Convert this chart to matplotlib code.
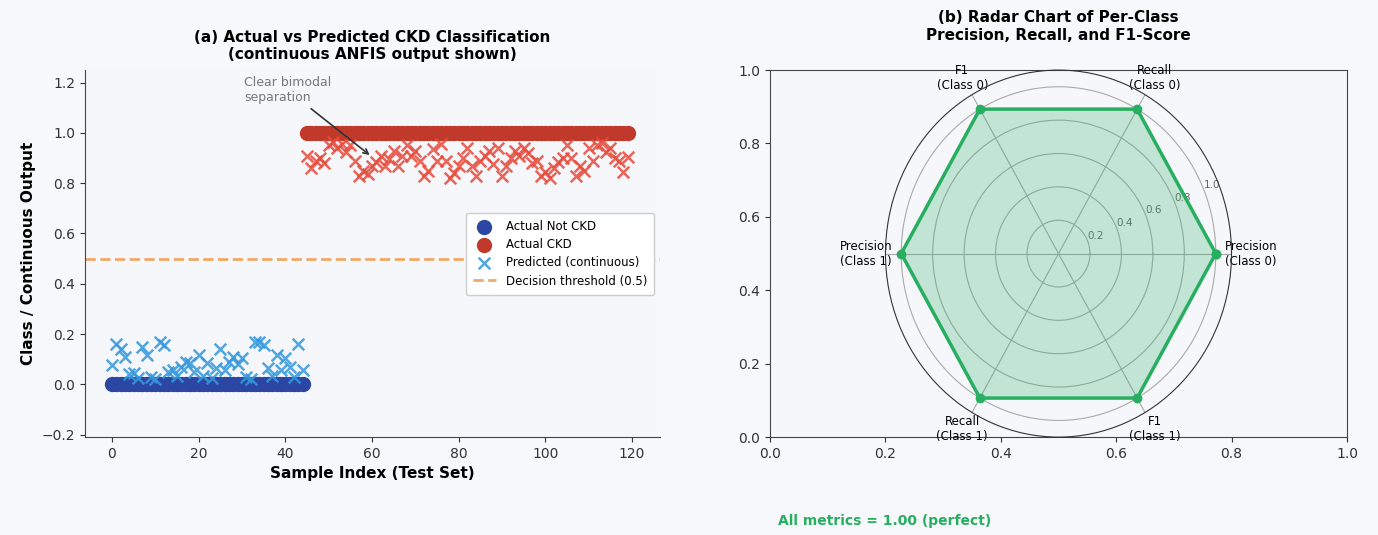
import numpy as np
import matplotlib
matplotlib.use("Agg")
import matplotlib.pyplot as plt

# ---------------- data ----------------
not_ckd_idx = list(range(0, 45))
ckd_idx = list(range(45, 120))
pred_not_ckd = [0.075, 0.16, 0.14, 0.11, 0.04, 0.045, 0.025, 0.15, 0.115, 0.03,
                0.02, 0.17, 0.155, 0.05, 0.055, 0.035, 0.07, 0.09, 0.085, 0.05,
                0.115, 0.035, 0.085, 0.025, 0.065, 0.14, 0.055, 0.09, 0.11, 0.08,
                0.105, 0.03, 0.02, 0.17, 0.17, 0.155, 0.065, 0.035, 0.115, 0.055,
                0.105, 0.07, 0.03, 0.16, 0.055]
pred_ckd = [0.91, 0.86, 0.89, 0.90, 0.88, 0.95, 0.965, 0.94, 0.955, 0.925,
            0.95, 0.89, 0.83, 0.85, 0.835, 0.87, 0.885, 0.91, 0.87, 0.895,
            0.93, 0.87, 0.91, 0.95, 0.91, 0.93, 0.89, 0.83, 0.85, 0.935,
            0.89, 0.955, 0.89, 0.82, 0.84, 0.87, 0.90, 0.94, 0.87, 0.83,
            0.89, 0.91, 0.93, 0.875, 0.94, 0.83, 0.87, 0.90, 0.93, 0.91,
            0.94, 0.92, 0.88, 0.89, 0.83, 0.845, 0.82, 0.86, 0.885, 0.90,
            0.95, 0.90, 0.83, 0.87, 0.85, 0.94, 0.89, 0.95, 0.96, 0.925,
            0.94, 0.90, 0.89, 0.845, 0.905]
actual_not_ckd = [0] * len(not_ckd_idx)
actual_ckd = [1] * len(ckd_idx)
threshold = 0.5

radar_labels = ["Precision\n(Class 0)", "Recall\n(Class 0)", "F1\n(Class 0)",
                "Precision\n(Class 1)", "Recall\n(Class 1)", "F1\n(Class 1)"]
radar_values = [1.0, 1.0, 1.0, 1.0, 1.0, 1.0]
r_ticks = [0.2, 0.4, 0.6, 0.8, 1.0]

# ---------------- style ----------------
BG = "#f7f8fb"
AXBG = "#f6f7fb"
DARKBLUE = "#2b46a3"
RED = "#c0392b"
LIGHTBLUE = "#3498db"
LIGHTRED = "#e74c3c"
ORANGE = "#f0a058"
GREEN = "#27ae60"

fig = plt.figure(figsize=(13.78, 5.35), dpi=100, facecolor=BG)

# ---------------- left panel ----------------
ax1 = fig.add_axes([0.0617, 0.183, 0.4173, 0.686])
ax1.set_facecolor(AXBG)
ax1.scatter(not_ckd_idx, actual_not_ckd, s=100, color=DARKBLUE, label="Actual Not CKD", zorder=2)
ax1.scatter(ckd_idx, actual_ckd, s=100, color=RED, label="Actual CKD", zorder=2)
ax1.scatter(not_ckd_idx, pred_not_ckd, s=70, marker="x", color=LIGHTBLUE, alpha=0.85,
            linewidths=1.8, label="Predicted (continuous)", zorder=3)
ax1.scatter(ckd_idx, pred_ckd, s=70, marker="x", color=LIGHTRED, alpha=0.85,
            linewidths=1.8, zorder=3)
ax1.axhline(threshold, color=ORANGE, linestyle="--", linewidth=2, alpha=0.9,
            label="Decision threshold (0.5)", zorder=1)
ax1.set_xlim(-6.2, 126.5)
ax1.set_ylim(-0.21, 1.25)
ax1.set_yticks([-0.2, 0.0, 0.2, 0.4, 0.6, 0.8, 1.0, 1.2])
ax1.set_xticks([0, 20, 40, 60, 80, 100, 120])
ax1.tick_params(labelsize=10, colors="#333333")
for s in ["top", "right"]:
    ax1.spines[s].set_visible(False)
for s in ["left", "bottom"]:
    ax1.spines[s].set_color("#444444")
ax1.set_xlabel("Sample Index (Test Set)", fontsize=11, fontweight="bold")
ax1.set_ylabel("Class / Continuous Output", fontsize=11, fontweight="bold")
ax1.set_title("(a) Actual vs Predicted CKD Classification\n(continuous ANFIS output shown)",
              fontsize=11, fontweight="bold", pad=8)
ax1.annotate("Clear bimodal\nseparation", xy=(60, 0.905), xytext=(30.5, 1.17),
             fontsize=9, color="#777777", ha="left", va="center",
             arrowprops=dict(arrowstyle="->", color="#333333", lw=1.2))
leg = ax1.legend(loc="center right", fontsize=8.5, frameon=True, framealpha=1.0,
                 borderpad=0.6, labelspacing=0.45)
leg.get_frame().set_edgecolor("#cccccc")

# ---------------- right panel ----------------
pos = [0.5588, 0.183, 0.4187, 0.686]
axc = fig.add_axes(pos)
axc.set_facecolor(AXBG)
axc.set_xlim(0, 1)
axc.set_ylim(0, 1)
axc.tick_params(labelsize=10, colors="#333333")
for s in axc.spines.values():
    s.set_color("#444444")

ppos = [(1058.5 - 173) / 1378, 0.183, 346 / 1378, 0.686]
axp = fig.add_axes(ppos, polar=True)
axp.set_aspect("auto")
axp.set_facecolor("none")
n = len(radar_labels)
angles = np.linspace(0, 2 * np.pi, n, endpoint=False).tolist()
vals = radar_values + radar_values[:1]
ang = angles + angles[:1]
axp.plot(ang, vals, color=GREEN, linewidth=2.5, marker="o", markersize=6, zorder=3)
axp.fill(ang, vals, color=GREEN, alpha=0.25, zorder=2)
axp.set_xticks(angles)
axp.set_xticklabels(radar_labels, fontsize=8.5)
axp.set_ylim(0, 1.1)
axp.set_yticks(r_ticks)
axp.set_yticklabels([f"{t:.1f}" for t in r_ticks], fontsize=7.5, color="#666666")
axp.grid(color="#aaaaaa", linewidth=0.8)
axp.spines["polar"].set_color("#333333")
axp.set_title("(b) Radar Chart of Per-Class\nPrecision, Recall, and F1-Score",
              fontsize=11, fontweight="bold", pad=22)

fig.text(0.642, 0.026, "All metrics = 1.00 (perfect)", ha="center", va="center",
         fontsize=10, fontweight="bold", color=GREEN)

fig.savefig("out.png", dpi=100, facecolor=BG)
